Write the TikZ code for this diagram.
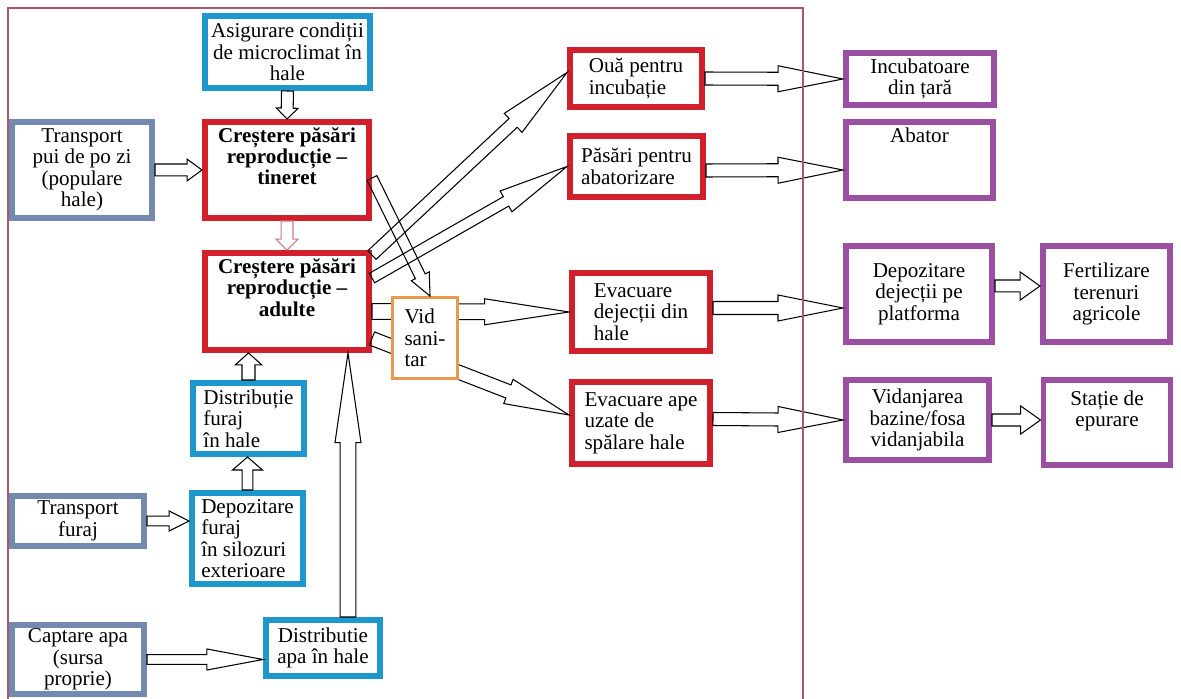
\documentclass[tikz,border=0pt]{standalone}
\usepackage{fontspec}
\setmainfont{Liberation Serif}
\usetikzlibrary{calc}

\definecolor{boxblue}{HTML}{1E98CC}
\definecolor{boxgray}{HTML}{7389B0}
\definecolor{boxred}{HTML}{D0202C}
\definecolor{boxpurple}{HTML}{9A4FA0}
\definecolor{boxorange}{HTML}{E89A4C}
\definecolor{framepink}{HTML}{A85A6C}
\definecolor{arrowpink}{HTML}{C87A86}

\tikzset{
    box/.style={draw, line width=3.4pt, fill=white, inner sep=2pt, align=center,
      font=\fontsize{12}{12.2}\selectfont},
    boldtext/.style={font=\fontsize{12}{12.2}\selectfont\bfseries},
    sz/.style 2 args={minimum width=#1*0.02cm, minimum height=#2*0.02cm},
    bluebox/.style={box, draw=boxblue},
    graybox/.style={box, draw=boxgray},
    redbox/.style={box, draw=boxred},
    purplebox/.style={box, draw=boxpurple},
    orangebox/.style={box, draw=boxorange, line width=1.7pt},
    blockarrow/.style={draw=black, line width=0.6pt, line join=miter}
}

% hollow block arrow: [options]{from}{to}{shaft half width}{head half width}{head length}
\newcommand{\hollowarrow}[6][]{%
  \coordinate (hs) at (#2);
  \coordinate (he) at (#3);
  \coordinate (hb) at ($(he)!#6!(hs)$);
  \draw[blockarrow,#1] ($(hs)!#4!90:(he)$) -- ($(hb)!#4!-90:(hs)$) -- ($(hb)!#5!-90:(hs)$) -- (he)
    -- ($(hb)!#5!90:(hs)$) -- ($(hb)!#4!90:(hs)$) -- ($(hs)!#4!-90:(he)$) -- cycle;
}

\begin{document}
\begin{tikzpicture}[x=0.02cm, y=-0.02cm]

    \useasboundingbox (0,0) rectangle (1181,699);

    % left column: inputs
    \node[graybox, sz={140}{96}] (tpui) at (82,170) {Transport\\ pui de po zi\\ (populare\\ hale)};
    \node[graybox, sz={132}{50}] (tfuraj) at (78,521) {Transport\\ furaj};
    \node[graybox, sz={132}{69}] (capt) at (78,659.5) {Captare apa\\ (sursa\\ proprie)};

    % middle column: halls and supply
    \node[bluebox, sz={165}{72}] (asig) at (287.5,52) {Asigurare condiții\\ de microclimat în\\ hale};
    \node[redbox, boldtext, sz={164}{96}] (tin) at (287,170) {Creștere păsări\\ reproducție –\\ tineret\\ \strut};
    \node[redbox, boldtext, sz={164}{97}] (adu) at (287,301.5) {Creștere păsări\\ reproducție –\\ adulte\\ \strut};
    \node[bluebox, align=left, sz={111}{71}] (dfuraj) at (248.5,418.5) {Distribuție\\ furaj\\ în hale};
    \node[bluebox, align=left, sz={111}{91}] (depfuraj) at (247.5,538.5) {Depozitare\\ furaj\\ în silozuri\\ exterioare};
    \node[bluebox, sz={114}{56}] (dapa) at (323,648) {Distributie\\ apa în hale};

    % outputs of the farm
    \node[redbox, align=left, sz={132}{57}] (oua) at (636,78.5) {Ouă pentru\\ incubație};
    \node[redbox, align=left, sz={133}{61}] (pas) at (636.5,166.5) {Păsări pentru\\ abatorizare};
    \node[redbox, align=left, sz={138}{78}] (dej) at (641,312) {Evacuare\\ dejecții din\\ hale};
    \node[redbox, align=left, sz={138}{82}] (ape) at (641,423) {Evacuare ape\\ uzate de\\ spălare hale};

    % right columns: destinations
    \node[purplebox, sz={148}{52}] (inc) at (920,79) {Incubatoare\\ din țară};
    \node[purplebox, sz={147}{76}] (abat) at (919.5,160) {Abator\\ \strut\\ \strut};
    \node[purplebox, sz={146}{96}] (depdej) at (919,294) {Depozitare\\ dejecții pe\\ platforma};
    \node[purplebox, sz={127}{96}] (fert) at (1106.5,294) {Fertilizare\\ terenuri\\ agricole};
    \node[purplebox, sz={143}{80}] (vidanj) at (917.5,420) {Vidanjarea\\ bazine/fosa\\ vidanjabila};
    \node[purplebox, sz={127}{85}] (statie) at (1107,422.5) {Stație de\\ epurare\\ \strut};

    % arrows passing behind the Vid sanitar box
    \hollowarrow{$(adu.east)+(0,10)$}{dej.west}{4.5pt}{7.4pt}{48pt}
    \hollowarrow{$(adu.east)+(0,37)$}{$(ape.west)+(0,-8)$}{4pt}{7.4pt}{37pt}
    \node[orangebox, align=left, sz={65}{81}] (vid) at (425,338) {Vid\\ sani-\\ tar};

    % arrows into the halls
    \hollowarrow{asig.south}{tin.north}{3.4pt}{6.2pt}{6.2pt}
    \hollowarrow{tpui.east}{tin.west}{3.4pt}{6.2pt}{8.5pt}
    \hollowarrow[draw=arrowpink]{tin.south}{adu.north}{3.4pt}{6.2pt}{6.2pt}
    \hollowarrow{dfuraj.north}{dfuraj.north |- adu.south}{3.7pt}{7.6pt}{6.8pt}
    \hollowarrow{depfuraj.north}{depfuraj.north |- dfuraj.south}{3.1pt}{8.5pt}{7.4pt}
    \hollowarrow{tfuraj.east}{tfuraj.east -| depfuraj.west}{2.8pt}{5.7pt}{11.3pt}
    \hollowarrow{capt.east}{capt.east -| dapa.west}{2.8pt}{6pt}{32pt}
    \coordinate (up) at ($(dapa.north)+(25,0)$);
    \hollowarrow{up}{up |- adu.south}{4.5pt}{7.4pt}{51pt}

    % arrows out of the halls
    \hollowarrow{$(adu.north east)+(0,5)$}{$(oua.west)+(0,-6)$}{3.4pt}{7.4pt}{42pt}
    \hollowarrow{$(adu.north east)+(0,28)$}{pas.west}{3.1pt}{6.8pt}{40pt}
    \hollowarrow{$(tin.east)+(0,8)$}{$(vid.north)+(5,0)$}{3.1pt}{5.7pt}{12.5pt}

    % arrows to the destinations
    \hollowarrow{oua.east}{inc.west}{3.7pt}{7.4pt}{37pt}
    \hollowarrow{$(pas.east)+(0,4)$}{$(abat.west)+(0,10)$}{3.7pt}{7.4pt}{37pt}
    \hollowarrow{$(dej.east)+(0,-4)$}{$(depdej.west)+(0,14)$}{3.7pt}{7.4pt}{37pt}
    \hollowarrow{$(ape.east)+(0,-4)$}{vidanj.west}{3.7pt}{7.4pt}{37pt}
    \hollowarrow{$(depdej.east)+(0,-8)$}{$(fert.west)+(0,-8)$}{3.4pt}{8pt}{11.3pt}
    \hollowarrow{vidanj.east}{vidanj.east -| statie.west}{3.4pt}{8pt}{11.3pt}

    % thin frame round the farm
    \draw[framepink, line width=0.8pt] (8,699) -- (8,8) -- (803,8) -- (803,699);

\end{tikzpicture}
\end{document}
